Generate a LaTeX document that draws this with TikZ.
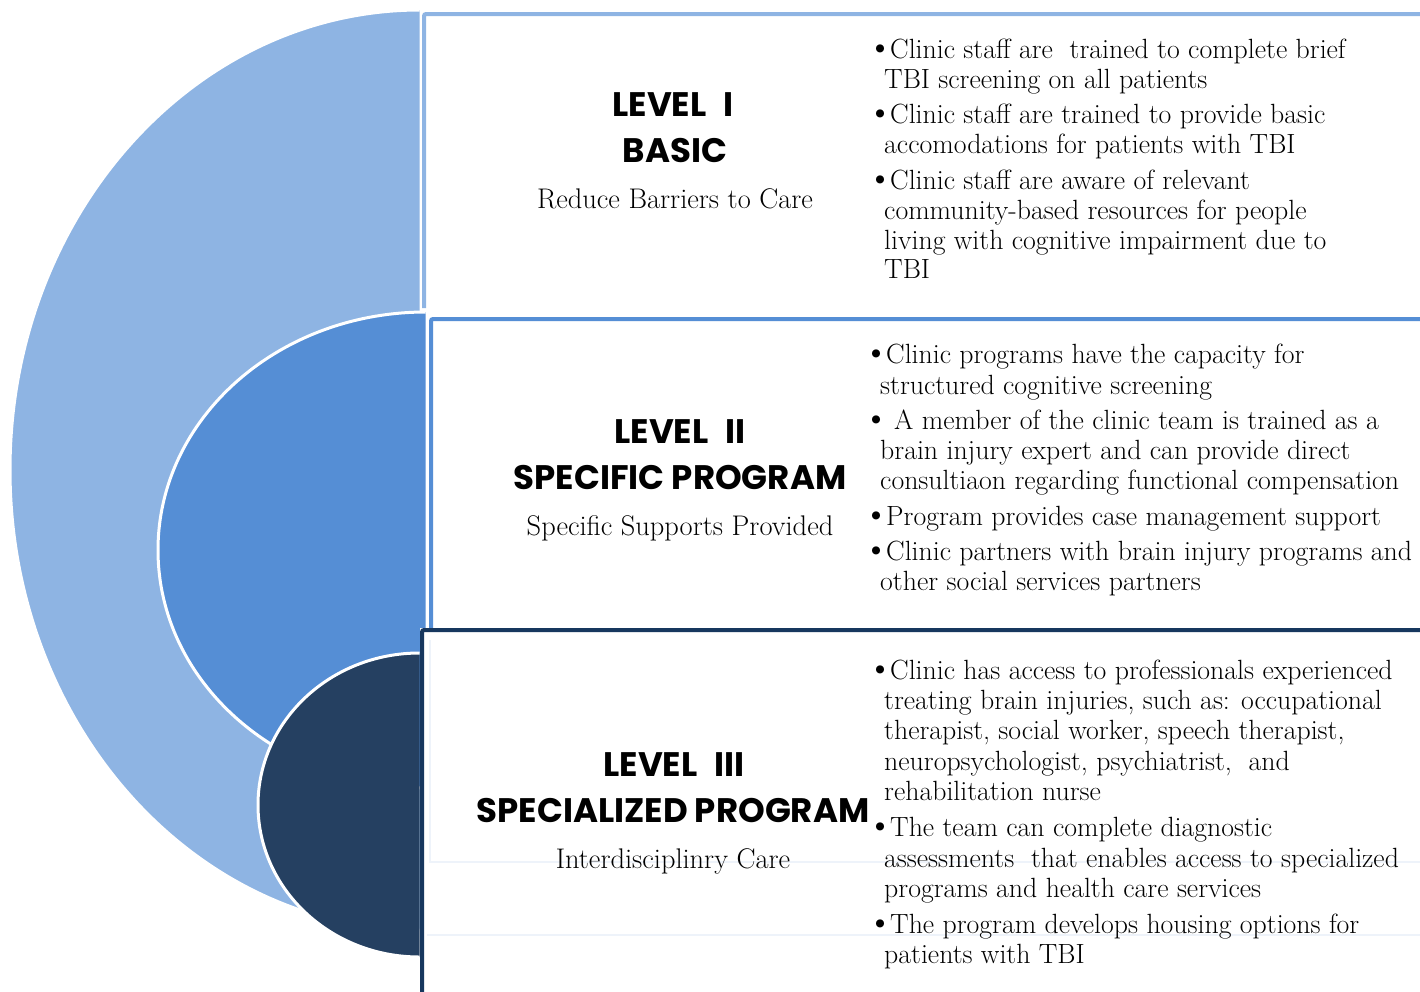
\documentclass[tikz,border=0pt]{standalone}
\usepackage{fontspec}
\newfontfamily\headfont{Poppins}
\definecolor{lightb}{HTML}{8EB4E3}
\definecolor{midb}{HTML}{558ED5}
\definecolor{darkb}{HTML}{254061}
\definecolor{navy}{HTML}{17375E}
\definecolor{faint}{HTML}{EEF3FA}
\tikzset{
  shapeedge/.style={draw=white, line width=3pt},
  boxline/.style={line width=4pt, rounded corners=2pt},
  head/.style={font=\headfont\bfseries\fontsize{34}{40}\selectfont, anchor=base, inner sep=0pt},
  sub/.style={font=\fontsize{28.4}{32}\selectfont, anchor=base, inner sep=0pt},
  bul/.style={font=\fontsize{27.8}{30}\selectfont, anchor=base west, inner sep=0pt},
}
\newcommand{\bl}{\makebox[0pt][r]{\raisebox{-0.8pt}{\scalebox{1.3}{\textbullet}}\hspace{-9pt}}\hspace{6pt}}
\newcommand{\hsp}{\hspace{0.5em}}
\begin{document}
\begin{tikzpicture}[x=1pt,y=-1pt]
\useasboundingbox (0,0) rectangle (1420,991);
% left half shapes
\begin{scope}
  \clip (0,0) rectangle (419.5,991);
  \fill[lightb, shapeedge] (420,470) ellipse [x radius=410, y radius=460];
\end{scope}
\begin{scope}
  \clip (0,0) rectangle (425.5,991);
  \fill[midb, shapeedge] (426,550) ellipse [x radius=268, y radius=238];
\end{scope}
\begin{scope}
  \clip (0,0) rectangle (419.5,991);
  \fill[darkb, shapeedge] (419.5,805) ellipse [x radius=161.5, y radius=152];
\end{scope}
% boxes
\draw[boxline, lightb] (424,308) -- (424,14) -- (1440,14);
\fill[white] (428.5,317) rectangle (1440,630);
\draw[boxline, midb] (431,630) -- (431,319) -- (1440,319);
\fill[white] (420,628) rectangle (1440,1000);
\draw[line width=2pt, faint] (430,640) -- (430,862) -- (1440,862);
\draw[line width=2pt, faint] (427,935) -- (1440,935);
\draw[boxline, navy] (422,1000) -- (422,630) -- (1440,630);
% headings
\node[head] (h1a) at (673,116) {LEVEL\hsp I};
\node[head] (h1b) at (675,162) {BASIC};
\node[sub]  (s1)  at (675,208) {Reduce Barriers to Care};
\node[head] (h2a) at (680,443) {LEVEL\hsp II};
\node[head] (h2b) at (680,489) {SPECIFIC PROGRAM};
\node[sub]  (s2)  at (680,535) {Specific Supports Provided};
\node[head] (h3a) at (674,776) {LEVEL\hsp III};
\node[head] (h3b) at (673,822) {SPECIALIZED PROGRAM};
\node[sub]  (s3)  at (673,868) {Interdisciplinry Care};
% level I bullets
\node[bul] (b11a) at (884,58)  {\bl Clinic staff are\ \ trained to complete brief};
\node[bul] (b11b) at (884,88)  {TBI screening on all patients};
\node[bul] (b12a) at (884,123) {\bl Clinic staff are trained to provide basic};
\node[bul] (b12b) at (884,153) {accomodations for patients with TBI};
\node[bul] (b13a) at (884,189) {\bl Clinic staff are aware of relevant};
\node[bul] (b13b) at (884,219) {community-based resources for people};
\node[bul] (b13c) at (884,249) {living with cognitive impairment due to};
\node[bul] (b13d) at (884,278) {TBI};
% level II bullets
\node[bul] (b21a) at (880,363) {\bl Clinic programs have the capacity for};
\node[bul] (b21b) at (880,394) {structured cognitive screening};
\node[bul] (b22a) at (880,429) {\bl\hspace{8pt}A member of the clinic team is trained as a};
\node[bul] (b22b) at (880,459) {brain injury expert and can provide direct};
\node[bul] (b22c) at (880,489) {consultiaon regarding functional compensation};
\node[bul] (b23a) at (880,525) {\bl Program provides case management support};
\node[bul] (b24a) at (880,560) {\bl Clinic partners with brain injury programs and};
\node[bul] (b24b) at (880,590) {other social services partners};
% level III bullets
\node[bul] (b31a) at (884,679) {\bl Clinic has access to professionals experienced};
\node[bul] (b31b) at (884,709) {treating brain injuries, such as: occupational};
\node[bul] (b31c) at (884,739) {therapist, social worker, speech therapist,};
\node[bul] (b31d) at (884,770) {neuropsychologist, psychiatrist,\ \ and};
\node[bul] (b31e) at (884,800) {rehabilitation nurse};
\node[bul] (b32a) at (884,836) {\bl The team can complete diagnostic};
\node[bul] (b32b) at (884,867) {assessments\ \ that enables access to specialized};
\node[bul] (b32c) at (884,897) {programs and health care services};
\node[bul] (b33a) at (884,933) {\bl The program develops housing options for};
\node[bul] (b33b) at (884,963) {patients with TBI};
\end{tikzpicture}
\end{document}
